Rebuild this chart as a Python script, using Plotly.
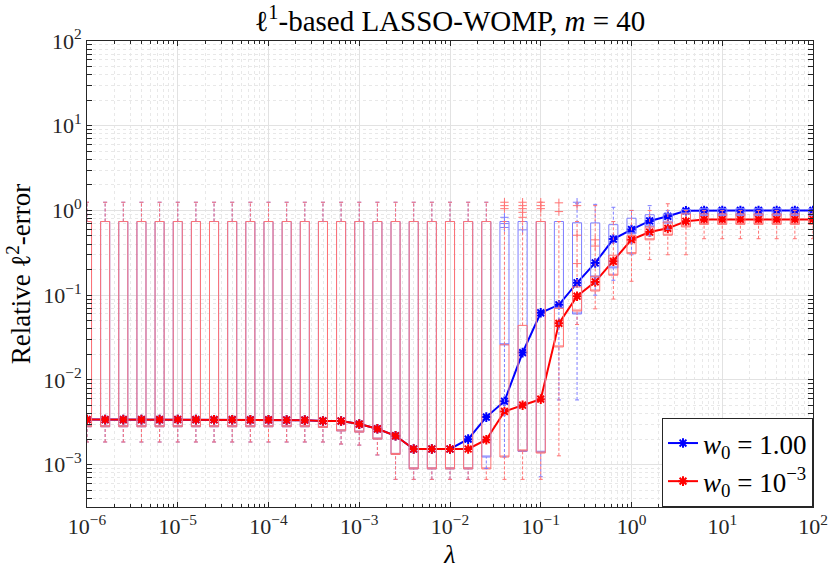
import numpy as np
import plotly.graph_objs as go

# lambda grid (log10 exponents)
lam_exp = [-6.0, -5.8, -5.6, -5.4, -5.2, -5.0, -4.8, -4.6, -4.4, -4.2,
           -4.0, -3.8, -3.6, -3.4, -3.2, -3.0, -2.8, -2.6, -2.4, -2.2,
           -2.0, -1.8, -1.6, -1.4, -1.2, -1.0, -0.8, -0.6, -0.4, -0.2,
           0.0, 0.2, 0.4, 0.6, 0.8, 1.0, 1.2, 1.4, 1.6, 1.8, 2.0]
lam = [10 ** e for e in lam_exp]

# curve values, w0 = 1.00
err_w1 = [3.40e-3, 3.40e-3, 3.40e-3, 3.40e-3, 3.40e-3, 3.41e-3, 3.40e-3, 3.39e-3, 3.39e-3, 3.38e-3,
          3.38e-3, 3.36e-3, 3.35e-3, 3.28e-3, 3.27e-3, 3.01e-3, 2.65e-3, 2.19e-3, 1.53e-3, 1.53e-3,
          1.53e-3, 2.0e-3, 3.64e-3, 5.6e-3, 0.021, 0.062, 0.077, 0.14, 0.24, 0.46,
          0.595, 0.752, 0.853, 0.99, 1.0, 1.0, 1.0, 1.0, 1.0, 1.0, 1.0]
# curve values, w0 = 1e-3
err_w3 = [3.40e-3, 3.40e-3, 3.40e-3, 3.40e-3, 3.40e-3, 3.41e-3, 3.40e-3, 3.39e-3, 3.39e-3, 3.38e-3,
          3.38e-3, 3.36e-3, 3.35e-3, 3.28e-3, 3.27e-3, 3.01e-3, 2.65e-3, 2.19e-3, 1.53e-3, 1.53e-3,
          1.53e-3, 1.53e-3, 1.97e-3, 4.24e-3, 5.03e-3, 5.93e-3, 0.0465, 0.0973, 0.1435, 0.251,
          0.452, 0.556, 0.615, 0.745, 0.784, 0.784, 0.784, 0.784, 0.784, 0.784, 0.784]

# box statistics, w0 = 1.00
q1_w1 = [2.8e-3] * 13 + [2.75e-3, 2.5e-3, 2.42e-3, 2.0e-3, 1.32e-3, 8.9e-4, 8.9e-4,
         8.9e-4, 8.9e-4, 1.23e-3, 0.026, 1.43e-3, 1.4e-3, 0.07, 0.06, 0.164, 0.21,
         0.53, 0.64, 0.71, 0.91, 0.87, 0.87, 0.87, 0.87, 0.87, 0.87, 0.87]
q3_w1 = [0.74] * 27 + [0.716, 0.713, 0.68, 0.81, 0.89, 0.91, 1.02,
         1.05, 1.05, 1.05, 1.05, 1.05, 1.05, 1.05]
lo_w1 = [1.85e-3] * 14 + [1.75e-3, 1.7e-3, 1.3e-3, 6.7e-4, 6.7e-4, 6.7e-4,
         6.7e-4, 6.7e-4, 9.0e-4, 1.23e-3, 1.43e-3, 7.2e-4, 5.8e-3, 5.8e-3, 0.1, 0.15,
         0.3, 0.5, 0.6, 0.91, 0.87, 0.87, 0.87, 0.87, 0.87, 0.87, 0.87]
hi_w1 = [1.25] * 23 + [0.74, 0.74, 0.74, 0.74, 1.2, 1.18, 1.09, 1.0, 1.14, 1.0, 1.02,
         1.05, 1.05, 1.05, 1.05, 1.05, 1.05, 1.05]

# box statistics, w0 = 1e-3
q1_w3 = [2.8e-3] * 13 + [2.75e-3, 2.5e-3, 2.42e-3, 2.0e-3, 1.32e-3, 8.9e-4, 8.9e-4,
         8.9e-4, 8.9e-4, 8.9e-4, 1.23e-3, 1.45e-3, 1.37e-3, 0.0245, 0.065, 0.112, 0.172,
         0.309, 0.45, 0.51, 0.64, 0.685, 0.685, 0.685, 0.685, 0.685, 0.685, 0.685]
q3_w3 = [0.74] * 23 + [0.026, 0.044, 0.74, 0.07, 0.125, 0.167, 0.296, 0.508, 0.64, 0.73, 0.91,
         0.91, 0.91, 0.91, 0.91, 0.91, 0.91, 0.91]
lo_w3 = [1.85e-3] * 14 + [1.75e-3, 1.7e-3, 1.3e-3, 6.7e-4, 6.7e-4, 6.7e-4,
         6.7e-4, 6.7e-4, 6.7e-4, 6.7e-4, 6.7e-4, 6.7e-4, 1.27e-3, 0.045, 0.069, 0.09,
         0.146, 0.263, 0.30, 0.30, 0.464, 0.464, 0.464, 0.464, 0.464, 0.464, 0.464]
hi_w3 = [1.25] * 23 + [0.74, 0.74, 1.25, 0.74, 0.74, 1.14, 0.74, 1.0, 1.0, 1.2, 1.0,
         1.0, 1.0, 1.0, 1.0, 1.0, 1.0, 1.0]

# outliers (index into lambda grid, value)
out_w1_idx = [23, 23, 23, 24, 27]
out_w1_val = [0.83, 0.70, 0.63, 0.59, 1.25]
out_w3_idx = [23, 23, 23, 24, 24, 24, 24, 24, 25, 25, 25, 26, 26, 27, 27, 27, 28, 28]
out_w3_val = [1.25, 1.14, 1.05, 1.25, 1.14, 1.05, 0.95, 0.83, 1.25, 1.14, 1.05,
              1.23, 0.97, 1.14, 0.51, 0.236, 0.45, 0.38]

blue = 'rgb(0,0,255)'
red = 'rgb(255,0,0)'
blue_f = 'rgb(125,125,255)'
red_f = 'rgb(255,115,115)'
serif = 'Liberation Serif'
cap = 0.022


def box_traces(q1, q3, lo, hi, oidx, oval, col):
    tr = []
    tr.append(go.Box(x=lam_exp, q1=q1, median=q1, q3=q3, lowerfence=q1, upperfence=q3,
                     width=0.1, whiskerwidth=0, boxpoints=False,
                     line=dict(color=col, width=1), fillcolor='rgba(0,0,0,0)',
                     xaxis='x2', yaxis='y', showlegend=False, hoverinfo='skip'))
    wx, wy, cx, cy = [], [], [], []
    for e, a, b, c, d in zip(lam_exp, lo, q1, q3, hi):
        if a < b:
            wx += [e, e, None]
            wy += [a, b, None]
            cx += [e - cap, e + cap, None]
            cy += [a, a, None]
        if d > c:
            wx += [e, e, None]
            wy += [c, d, None]
            cx += [e - cap, e + cap, None]
            cy += [d, d, None]
    tr.append(go.Scatter(x=wx, y=wy, mode='lines', line=dict(color=col, width=1, dash='3px,2px'),
                         xaxis='x2', showlegend=False, hoverinfo='skip'))
    tr.append(go.Scatter(x=cx, y=cy, mode='lines', line=dict(color=col, width=1),
                         xaxis='x2', showlegend=False, hoverinfo='skip'))
    tr.append(go.Scatter(x=[lam_exp[i] for i in oidx], y=oval, mode='markers',
                         marker=dict(symbol='cross-thin', size=6, line=dict(color=col, width=1)),
                         xaxis='x2', showlegend=False, hoverinfo='skip'))
    return tr


data = []
data += box_traces(q1_w1, q3_w1, lo_w1, hi_w1, out_w1_idx, out_w1_val, blue_f)
data += box_traces(q1_w3, q3_w3, lo_w3, hi_w3, out_w3_idx, out_w3_val, red_f)
data.append(go.Scatter(x=lam, y=err_w1, mode='lines+markers', name='<i>w</i><sub>0</sub> = 1.00',
                       line=dict(color=blue, width=2),
                       marker=dict(symbol='asterisk-open', size=8, line=dict(color=blue, width=2))))
data.append(go.Scatter(x=lam, y=err_w3, mode='lines+markers', name='<i>w</i><sub>0</sub> = 10<sup>\u22123</sup>',
                       line=dict(color=red, width=2),
                       marker=dict(symbol='asterisk-open', size=8, line=dict(color=red, width=2))))

xt = [-6, -5, -4, -3, -2, -1, 0, 1, 2]
yt = [-3, -2, -1, 0, 1, 2]
xtext = ['10<sup>%s</sup>' % str(v).replace('-', '\u2212') for v in xt]
ytext = ['10<sup>%s</sup>' % str(v).replace('-', '\u2212') for v in yt]

axis_common = dict(showline=True, linecolor='#262626', linewidth=1, mirror='allticks',
                   ticks='inside', ticklen=5, tickcolor='#262626', automargin=False,
                   showgrid=True, gridcolor='#e2e2e2', gridwidth=1, zeroline=False,
                   tickfont=dict(family=serif, size=22, color='#262626'),
                   minor=dict(ticks='inside', ticklen=3, tickcolor='#262626', dtick='D1',
                              showgrid=True, gridcolor='#e8e8e8', griddash='dot'))

layout = go.Layout(
    width=830, height=576,
    margin=dict(l=87, r=17, t=41, b=69),
    paper_bgcolor='white', plot_bgcolor='white',
    title=dict(text='\u2113<sup>1</sup>-based LASSO-WOMP, <i>m</i> = 40', x=0.542, xanchor='center',
               y=0.963, yanchor='middle', font=dict(family=serif, size=29, color='black')),
    xaxis=dict(type='log', range=[-6, 2], tickvals=[10 ** v for v in xt], ticktext=xtext,
               title=dict(text='<i>\u03bb</i>', font=dict(family=serif, size=26, color='black'), standoff=6),
               **axis_common),
    xaxis2=dict(overlaying='x', range=[-6, 2], visible=False, type='linear'),
    yaxis=dict(type='log', range=[-3.5, 2], tickvals=[10 ** v for v in yt], ticktext=ytext,
               title=dict(text='Relative \u2113<sup>2</sup>-error', font=dict(family=serif, size=27, color='black'),
                          standoff=4),
               **axis_common),
    legend=dict(x=1, y=0, xanchor='right', yanchor='bottom', bgcolor='white',
                bordercolor='#262626', borderwidth=1, font=dict(family=serif, size=27, color='black'),
                tracegroupgap=0, itemwidth=30),
    showlegend=True,
)

fig = go.Figure(data=data, layout=layout)
fig.write_html("out.html", config={'displayModeBar': False},
               post_script="document.body.style.margin='0';")
